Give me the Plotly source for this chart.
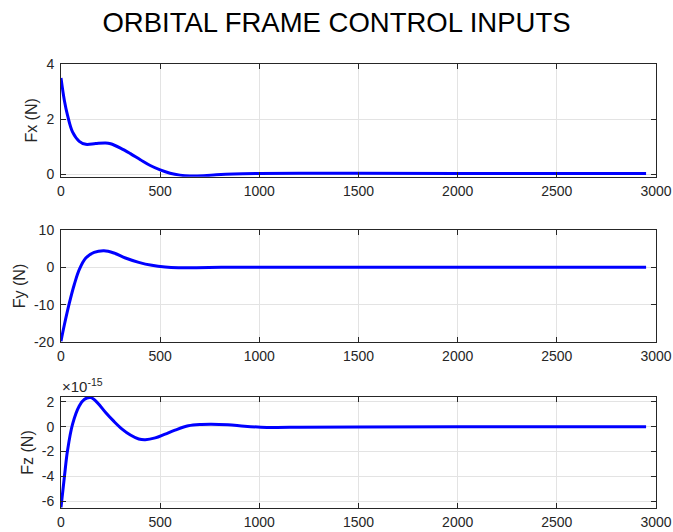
import plotly.graph_objects as go
from plotly.subplots import make_subplots

# Time samples (s) and values
t_fx = [0, 17, 33, 58, 92, 125, 175, 225, 250, 300, 350, 400, 450, 500, 550, 600, 650, 720, 783, 870, 1000, 1200, 1500, 2000, 2950]
fx = [3.49, 2.67, 2.13, 1.53, 1.19, 1.08, 1.11, 1.13, 1.10, 0.94, 0.74, 0.52, 0.31, 0.15, 0.03, -0.04, -0.07, -0.06, -0.03, 0.0, 0.02, 0.03, 0.03, 0.02, 0.02]

t_fy = [0, 17, 42, 67, 92, 125, 167, 217, 267, 325, 392, 458, 525, 592, 675, 808, 1200, 2000, 2950]
fy = [-19.8, -15.4, -9.6, -4.6, -0.6, 2.5, 4.0, 4.45, 3.84, 2.5, 1.34, 0.54, 0.09, -0.09, -0.09, 0.0, 0.0, 0.0, 0.0]

t_fz = [0, 17, 33, 58, 92, 117, 150, 183, 225, 267, 308, 350, 392, 425, 475, 525, 575, 642, 708, 758, 842, 925, 1008, 1075, 1200, 1500, 2000, 2950]
fz = [-6.5, -4.05, -1.9, 0.2, 1.68, 2.2, 2.35, 1.95, 1.15, 0.43, -0.19, -0.67, -0.99, -1.05, -0.9, -0.59, -0.27, 0.08, 0.19, 0.21, 0.16, 0.05, -0.03, -0.05, -0.04, -0.01, 0.0, 0.0]
fz_exponent = -15

x_ticks = [0, 500, 1000, 1500, 2000, 2500, 3000]
fx_ticks = [0, 2, 4]
fy_ticks = [-20, -10, 0, 10]
fz_ticks = [-6, -4, -2, 0, 2]

title = "ORBITAL FRAME CONTROL INPUTS"
labels = ["Fx (N)", "Fy (N)", "Fz (N)"]

AX = "#262626"
GRID = "#e3e3e3"
FONT = "Liberation Sans, Arial, Helvetica, sans-serif"

fig = make_subplots(rows=3, cols=1, vertical_spacing=0.0)

series = [(t_fx, fx), (t_fy, fy), (t_fz, fz)]
for i, (tx, vy) in enumerate(series, start=1):
    fig.add_trace(go.Scatter(x=tx, y=vy, mode="lines",
                             line=dict(color="#0000ff", width=3, shape="spline", smoothing=1.0),
                             showlegend=False, hoverinfo="skip"), row=i, col=1)

domains = [[0.746, 1.0], [0.374, 0.626], [0.0, 0.25]]
yranges = [[-0.1, 4.0], [-20, 10], [-6.55, 2.4]]
yticks = [fx_ticks, fy_ticks, fz_ticks]

axis_common = dict(showline=True, linecolor=AX, linewidth=1, mirror="ticks",
                   ticks="inside", ticklen=5, tickcolor=AX, automargin=False,
                   showgrid=True, gridcolor=GRID, gridwidth=1, zeroline=False,
                   tickfont=dict(family=FONT, size=14, color=AX))

for i in range(3):
    fig.update_xaxes(range=[0, 3000], tickvals=x_ticks,
                     ticktext=[str(v) for v in x_ticks], ticklabelstandoff=1,
                     **axis_common, row=i + 1, col=1)
    fig.update_yaxes(range=yranges[i], tickvals=yticks[i],
                     ticktext=[str(v) for v in yticks[i]], domain=domains[i],
                     ticklabelstandoff=3,
                     title=dict(text=labels[i], font=dict(family=FONT, size=16, color=AX), standoff=4),
                     **axis_common, row=i + 1, col=1)

fig.add_annotation(x=0, y=1.0, xref="x3 domain", yref="y3 domain",
                   text="\u00d710<sup>%d</sup>" % fz_exponent, showarrow=False,
                   xanchor="left", yanchor="bottom", xshift=-1, yshift=0,
                   font=dict(family=FONT, size=15, color=AX))

fig.update_layout(
    width=673, height=532,
    margin=dict(l=61, r=17, t=64, b=24),
    paper_bgcolor="white", plot_bgcolor="white",
    title=dict(text=title, x=0.5, xanchor="center", y=1 - 22 / 532, yanchor="middle",
               font=dict(family=FONT, size=27.5, color="black")),
    font=dict(family=FONT, color=AX),
)

fig.write_html("out.html", config={"displayModeBar": False},
               post_script="document.body.style.margin='0px';")
